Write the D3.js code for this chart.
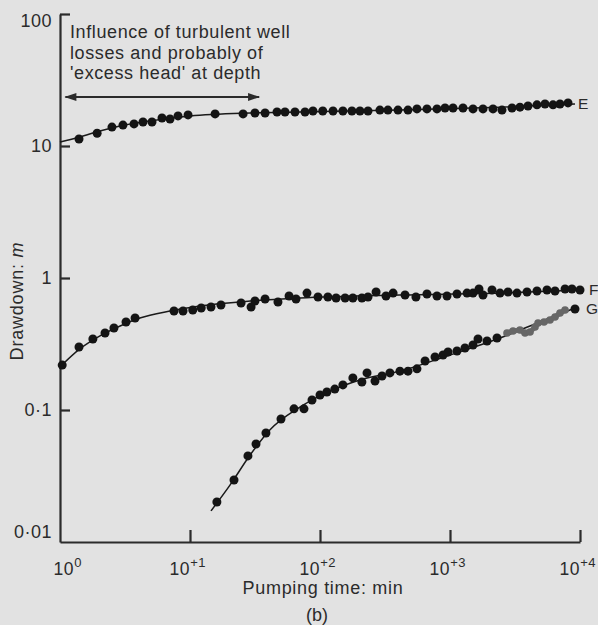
<!DOCTYPE html>
<html>
<head>
<meta charset="utf-8">
<script src="https://cdn.jsdelivr.net/npm/d3@7"></script>
<style>
body { margin: 0; background: #e2e2e2; }
svg { display: block; font-family: "Liberation Sans", Arial, sans-serif; }
</style>
</head>
<body>
<div id="main"></div>
<script>
const ctx = {
    WIDTH: 598,
    HEIGHT: 625,
    LEFT: 60, RIGHT: 580, TOP: 14, BOTTOM: 542,
    INK: "#2b2b2b",
};

// pumping time (min), drawdown (m)
const pointsE = [
    [1.40, 11.3], [1.93, 12.5], [2.51, 13.9], [3.05, 14.4], [3.71, 14.7], [4.35, 15.2],
    [5.10, 15.2], [6.09, 16.3], [7.02, 16.0], [8.09, 16.9], [9.66, 17.2], [15.6, 17.5],
    [25.6, 17.5], [31.6, 17.8], [37.8, 17.8], [46.7, 18.1], [53.8, 18.1], [64.2, 18.1],
    [76.7, 18.1], [88.3, 18.4], [105, 18.4], [126, 18.4], [150, 18.4], [176, 18.4],
    [203, 18.4], [234, 18.4], [289, 18.7], [333, 18.7], [398, 18.7], [475, 18.7],
    [557, 19.1], [665, 19.1], [794, 19.1], [916, 19.4], [1055, 19.4], [1259, 19.4],
    [1503, 19.1], [1794, 19.1], [2142, 19.1], [2512, 18.7], [2999, 19.4], [3453, 19.7],
    [3981, 20.1], [4667, 20.5], [5380, 20.8], [6200, 20.5], [7017, 20.8], [8090, 21.2]
];
const pointsF = [
    [1.04, 0.219], [1.40, 0.300], [1.79, 0.345], [2.22, 0.383], [2.60, 0.418], [3.22, 0.464],
    [3.78, 0.498], [7.53, 0.562], [8.84, 0.562], [10.5, 0.572], [12.2, 0.593], [14.5, 0.603],
    [17.3, 0.624], [24.7, 0.647], [29.5, 0.603], [31.6, 0.669], [37.8, 0.693], [47.5, 0.658],
    [57.8, 0.730], [65.4, 0.693], [79.4, 0.769], [96.5, 0.718], [115, 0.718], [133, 0.705],
    [156, 0.705], [179, 0.705], [210, 0.705], [234, 0.718], [270, 0.783], [322, 0.730],
    [365, 0.769], [451, 0.743], [547, 0.718], [665, 0.756], [794, 0.730], [948, 0.730],
    [1132, 0.756], [1352, 0.769], [1503, 0.769], [1671, 0.826], [1794, 0.743], [2104, 0.811],
    [2425, 0.769], [2793, 0.783], [3276, 0.769], [3912, 0.783], [4667, 0.797], [5572, 0.811],
    [6424, 0.797], [7674, 0.826], [8673, 0.826], [10000, 0.811]
];
const pointsG = [
    [16.1, 0.0201], [21.8, 0.0295], [27.9, 0.0449], [32.2, 0.0553], [38.4, 0.0670], [50.1, 0.0855],
    [63.1, 0.102], [75.3, 0.102], [86.8, 0.119], [100, 0.130], [113, 0.137], [130, 0.144],
    [150, 0.155], [179, 0.175], [210, 0.163], [230, 0.191], [265, 0.166], [300, 0.181],
    [345, 0.191], [412, 0.197], [475, 0.197], [557, 0.205], [643, 0.235], [767, 0.252],
    [884, 0.261], [966, 0.275], [1132, 0.280], [1304, 0.295], [1503, 0.311], [1642, 0.345],
    [1927, 0.333], [2300, 0.351], [9150, 0.582]
];
// late G readings printed in grey
const pointsGgrey = [
    [2744, 0.383], [3052, 0.397], [3453, 0.404], [3777, 0.383], [4125, 0.390], [4508, 0.425],
    [4753, 0.456], [5285, 0.464], [5875, 0.481], [6424, 0.507], [7017, 0.543], [7674, 0.572]
];
// fitted curves
const fitE = [[1, 10.7], [1.42, 11.7], [2.03, 13.0], [2.90, 14.2], [4.93, 15.5], [10, 16.9],
    [29, 17.8], [70, 18.1], [412, 18.7], [2425, 19.7], [9150, 20.8]];
const fitF = [[1, 0.212], [1.42, 0.290], [2.03, 0.364], [2.90, 0.433], [4.12, 0.498], [7.02, 0.562],
    [11.9, 0.614], [29, 0.669], [70, 0.705], [412, 0.743], [2425, 0.769], [10000, 0.811]];
const fitG = [[14.5, 0.0172], [20.3, 0.0270], [29, 0.0456], [41.1, 0.0705], [70, 0.105], [119, 0.139],
    [203, 0.169], [412, 0.197], [1000, 0.261], [2425, 0.351], [4900, 0.464], [9150, 0.593]];

const xTicks = [1, 10, 100, 1000, 10000];
const xTickExp = ["0", "+1", "+2", "+3", "+4"];
const yTicks = [0.01, 0.1, 1, 10, 100];
const yTickLabels = ["0·01", "0·1", "1", "10", "100"];
const seriesLabels = [["E", 10000, 20.8, -2], ["F", 10000, 0.811, 9], ["G", 10000, 0.582, 6]];
const noteLines = ["Influence of turbulent well", "losses and probably of", "'excess head' at depth"];
const noteSpan = [1.1, 34];

function createViz() {
    const svg = d3.select("#main").append("svg")
        .attr("width", ctx.WIDTH)
        .attr("height", ctx.HEIGHT);

    svg.append("rect").attr("width", ctx.WIDTH).attr("height", ctx.HEIGHT).attr("fill", "#e2e2e2");

    const x = d3.scaleLog().domain([1, 1e4]).range([ctx.LEFT, ctx.RIGHT]);
    const y = d3.scaleLog().domain([0.01, 100]).range([ctx.BOTTOM, ctx.TOP]);

    // axes
    const xAxis = d3.axisBottom(x).tickValues(xTicks).tickSizeInner(-12).tickSizeOuter(0).tickPadding(8).tickFormat("");
    const gx = svg.append("g").attr("transform", `translate(0,${ctx.BOTTOM})`).call(xAxis);
    gx.selectAll(".tick").filter(d => d === 1).select("line").remove();
    gx.selectAll(".tick text").each(function(d, i) {
        // "10" sits just left of its tick, the exponent trails to the right
        const t = d3.select(this)
            .attr("text-anchor", "start")
            .attr("x", i === 0 ? -7 : -21)
            .attr("y", 21)
            .attr("font-size", 17.5)
            .attr("letter-spacing", 0.6);
        t.append("tspan").text("10");
        t.append("tspan").text(xTickExp[i]).attr("font-size", 13).attr("dy", -8);
    });

    const yAxis = d3.axisLeft(y).tickValues(yTicks).tickSizeInner(-10).tickSizeOuter(0).tickPadding(8)
        .tickFormat((d, i) => yTickLabels[i]);
    const gy = svg.append("g").attr("transform", `translate(${ctx.LEFT},0)`).call(yAxis);
    gy.selectAll(".tick text")
        .attr("font-size", 18)
        .attr("letter-spacing", 0.5)
        .attr("dy", d => d === 100 ? "0.7em" : d === 0.01 ? "-0.25em" : "0.32em");
    gy.selectAll(".tick").filter(d => d === 0.01).select("line").remove();

    svg.selectAll(".domain, .tick line").attr("stroke", ctx.INK).attr("stroke-width", 2.2);
    svg.selectAll(".tick text").attr("fill", ctx.INK);

    // fitted curves
    const line = d3.line().x(d => x(d[0])).y(d => y(d[1])).curve(d3.curveMonotoneX);
    svg.selectAll("path.fit")
        .data([fitE, fitF, fitG])
        .enter().append("path")
        .attr("class", "fit")
        .attr("d", line)
        .attr("fill", "none")
        .attr("stroke", "#1a1a1a")
        .attr("stroke-width", 1.5);

    // grey readings: a ragged thick trace
    svg.append("path")
        .datum(pointsGgrey)
        .attr("d", d3.line().x(d => x(d[0])).y(d => y(d[1])))
        .attr("fill", "none")
        .attr("stroke", "#6e6e6e")
        .attr("stroke-width", 5)
        .attr("stroke-linejoin", "round");
    svg.append("g").selectAll("circle")
        .data(pointsGgrey)
        .enter().append("circle")
        .attr("cx", d => x(d[0]))
        .attr("cy", d => y(d[1]))
        .attr("r", 3.8)
        .attr("fill", "#666");

    // points
    svg.append("g").selectAll("circle")
        .data(pointsE.concat(pointsF, pointsG))
        .enter().append("circle")
        .attr("cx", d => x(d[0]))
        .attr("cy", d => y(d[1]))
        .attr("r", 4.5)
        .attr("fill", "#141414");

    svg.selectAll("text.series")
        .data(seriesLabels)
        .enter().append("text")
        .attr("class", "series")
        .attr("x", d => x(d[1]) + d[3])
        .attr("y", d => y(d[2]))
        .attr("dy", "0.35em")
        .attr("font-size", 15.5)
        .attr("fill", ctx.INK)
        .text(d => d[0]);

    // annotation
    svg.append("text")
        .attr("x", 70).attr("y", 38)
        .attr("font-size", 18)
        .attr("letter-spacing", 0.6)
        .attr("fill", ctx.INK)
        .selectAll("tspan")
        .data(noteLines)
        .enter().append("tspan")
        .attr("x", 70)
        .attr("dy", (d, i) => i === 0 ? 0 : 20.5)
        .text(d => d);

    const defs = svg.append("defs");
    defs.append("marker")
        .attr("id", "arrow")
        .attr("viewBox", "0 0 12 8")
        .attr("refX", 11).attr("refY", 4)
        .attr("markerUnits", "userSpaceOnUse")
        .attr("markerWidth", 13).attr("markerHeight", 8)
        .attr("orient", "auto-start-reverse")
        .append("path")
        .attr("d", "M0,0L12,4L0,8Z")
        .attr("fill", ctx.INK);

    svg.append("line")
        .attr("x1", x(noteSpan[0])).attr("x2", x(noteSpan[1]))
        .attr("y1", 97).attr("y2", 97)
        .attr("stroke", ctx.INK)
        .attr("stroke-width", 1.8)
        .attr("marker-start", "url(#arrow)")
        .attr("marker-end", "url(#arrow)");

    // axis titles
    svg.append("text")
        .attr("x", (ctx.LEFT + ctx.RIGHT) / 2 + 3).attr("y", 594)
        .attr("text-anchor", "middle")
        .attr("font-size", 18)
        .attr("letter-spacing", 0.7)
        .attr("fill", ctx.INK)
        .text("Pumping time: min");

    svg.append("text")
        .attr("x", 317).attr("y", 621)
        .attr("text-anchor", "middle")
        .attr("font-size", 18)
        .attr("fill", ctx.INK)
        .text("(b)");

    const yl = svg.append("text")
        .attr("transform", "translate(23,301) rotate(-90)")
        .attr("text-anchor", "middle")
        .attr("font-size", 18)
        .attr("letter-spacing", 0.8)
        .attr("fill", ctx.INK);
    yl.append("tspan").text("Drawdown: ");
    yl.append("tspan").attr("font-style", "italic").text("m");
}

createViz();
</script>
</body>
</html>
